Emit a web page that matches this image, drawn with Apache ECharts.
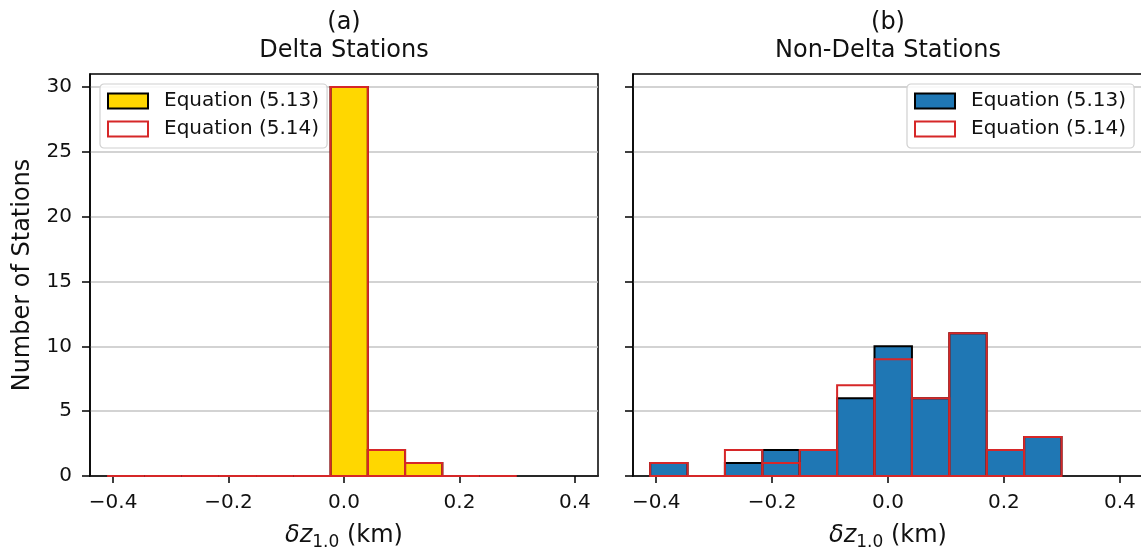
<!DOCTYPE html>
<html>
<head>
<meta charset="utf-8">
<script src="https://cdn.jsdelivr.net/npm/echarts@6/dist/echarts.min.js"></script>
<style>
  html, body { margin: 0; padding: 0; background: #fff; }
  #chart { width: 1141px; height: 552px; }
</style>
</head>
<body>
<div id="chart"></div>
<script>
// ---- Data ----
const binEdges = [-0.4104, -0.3459, -0.2814, -0.2168, -0.1523, -0.0878, -0.0233, 0.0413, 0.1058, 0.1703, 0.2349, 0.2994];
const deltaEq513 = [0, 0, 0, 0, 0, 0, 30, 2, 1, 0, 0];
const deltaEq514 = [0, 0, 0, 0, 0, 0, 30, 2, 1, 0, 0];
const nonDeltaEq513 = [1, 0, 1, 2, 2, 6, 10, 6, 11, 2, 3];
const nonDeltaEq514 = [1, 0, 2, 1, 2, 7, 9, 6, 11, 2, 3];
const xTicks = [-0.4, -0.2, 0.0, 0.2, 0.4];
const yTicks = [0, 5, 10, 15, 20, 25, 30];
const panelTitles = ['(a)\nDelta Stations', '(b)\nNon-Delta Stations'];
const seriesNames = ['Equation (5.13)', 'Equation (5.14)'];
const yLabel = 'Number of Stations';

const FONT = 'DejaVu Sans';
const RED = '#d62728';
const GOLD = '#FFD700';
const BLUE = '#1f77b4';
const TXT = '#111';

function binData(counts) {
  return counts.map((c, i) => [binEdges[i], binEdges[i + 1], c]);
}

function makeRender(fill, stroke) {
  return function (params, api) {
    const x0 = api.value(0), x1 = api.value(1), c = api.value(2);
    const p0 = api.coord([x0, c]);
    const p1 = api.coord([x1, 0]);
    return {
      type: 'rect',
      shape: { x: p0[0], y: p0[1], width: p1[0] - p0[0], height: p1[1] - p0[1] },
      style: { fill: fill, stroke: stroke, lineWidth: 2 }
    };
  };
}

function fmtX(v) {
  return v.toFixed(1).replace('-', '\u2212');
}

const grids = [
  { left: 90, top: 74, width: 508, height: 402 },
  { left: 633, top: 74, width: 510, height: 402 }
];

const xAxes = grids.map((g, i) => ({
  type: 'value', gridIndex: i, min: -0.44, max: 0.44,
  name: '{it|\u03b4z}{sub|1.0}{n| (km)}',
  nameLocation: 'middle', nameGap: 45,
  nameTextStyle: {
    fontFamily: FONT, fontSize: 24, color: TXT,
    rich: {
      it: { fontFamily: FONT, fontSize: 24, fontStyle: 'italic', lineHeight: 30, color: TXT },
      sub: { fontFamily: FONT, fontSize: 17, lineHeight: 12, verticalAlign: 'bottom', color: TXT },
      n: { fontFamily: FONT, fontSize: 24, lineHeight: 30, color: TXT }
    }
  },
  axisLine: { show: true, onZero: false, lineStyle: { color: '#000', width: 1.5 } },
  axisTick: { show: true, length: 7, lineStyle: { color: '#000', width: 1.5 }, customValues: xTicks },
  axisLabel: { fontFamily: FONT, fontSize: 20, color: TXT, margin: 17, formatter: fmtX, customValues: xTicks },
  splitLine: { show: false }
}));

const yAxes = grids.map((g, i) => ({
  type: 'value', gridIndex: i, min: 0, max: 31, interval: 5,
  name: i === 0 ? yLabel : '',
  nameLocation: 'middle', nameGap: 55, nameRotate: 90,
  nameTextStyle: { fontFamily: FONT, fontSize: 24, color: TXT },
  axisLine: { show: true, onZero: false, lineStyle: { color: '#000', width: 1.5 } },
  axisTick: { show: true, length: 8, lineStyle: { color: '#000', width: 1.5 }, customValues: yTicks },
  axisLabel: { show: i === 0, fontFamily: FONT, fontSize: 20, color: TXT, margin: 18, customValues: yTicks },
  splitLine: { show: true, lineStyle: { color: '#c4c4c4', width: 1.5 } }
}));

function legendFor(left, fillColor) {
  return {
    left: left, top: 84, orient: 'vertical',
    backgroundColor: 'rgba(255,255,255,0.85)',
    borderColor: '#d0d0d0', borderWidth: 1.2, borderRadius: 4,
    padding: [6, 8, 8, 7],
    itemWidth: 40, itemHeight: 15, itemGap: 6,
    selectedMode: false,
    textStyle: { fontFamily: FONT, fontSize: 20, color: TXT, lineHeight: 22, padding: [0, 0, 0, 11] },
    data: [
      { name: seriesNames[0], icon: 'rect', itemStyle: { color: fillColor, borderColor: '#000', borderWidth: 2 } },
      { name: seriesNames[1], icon: 'rect', itemStyle: { color: '#fff', borderColor: RED, borderWidth: 2 } }
    ]
  };
}

const option = {
  backgroundColor: '#fff',
  animation: false,
  textStyle: { fontFamily: FONT },
  grid: grids.map(g => Object.assign({ show: true, borderColor: '#000', borderWidth: 1.5, backgroundColor: 'transparent',
    containLabel: false, outerBoundsMode: 'none' }, g)),
  xAxis: xAxes,
  yAxis: yAxes,
  legend: [legendFor(100, GOLD), legendFor(907, BLUE)],
  graphic: [
    { type: 'text', x: 344, y: 9, style: { text: panelTitles[0], fontFamily: FONT, fontSize: 24, lineHeight: 28, align: 'center', fill: TXT } },
    { type: 'text', x: 888, y: 9, style: { text: panelTitles[1], fontFamily: FONT, fontSize: 24, lineHeight: 28, align: 'center', fill: TXT } }
  ],
  series: [
    { type: 'custom', name: seriesNames[0], xAxisIndex: 0, yAxisIndex: 0, renderItem: makeRender(GOLD, '#000'),
      encode: { x: [0, 1], y: 2 }, data: binData(deltaEq513), z: 3 },
    { type: 'custom', name: seriesNames[1], xAxisIndex: 0, yAxisIndex: 0, renderItem: makeRender('none', RED),
      encode: { x: [0, 1], y: 2 }, data: binData(deltaEq514), z: 4 },
    { type: 'custom', name: seriesNames[0], xAxisIndex: 1, yAxisIndex: 1, renderItem: makeRender(BLUE, '#000'),
      encode: { x: [0, 1], y: 2 }, data: binData(nonDeltaEq513), z: 3 },
    { type: 'custom', name: seriesNames[1], xAxisIndex: 1, yAxisIndex: 1, renderItem: makeRender('none', RED),
      encode: { x: [0, 1], y: 2 }, data: binData(nonDeltaEq514), z: 4 }
  ]
};

const chart = echarts.init(document.getElementById('chart'), null, { renderer: 'canvas' });
chart.setOption(option);
</script>
</body>
</html>
